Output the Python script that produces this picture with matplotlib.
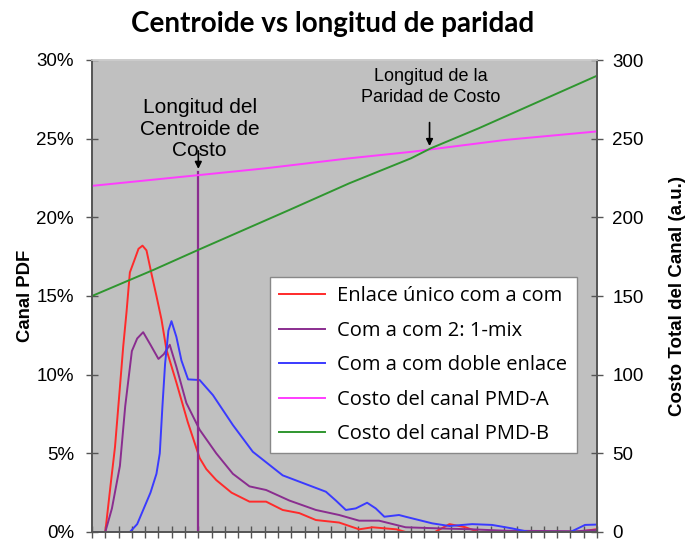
import matplotlib
matplotlib.use("Agg")
import matplotlib.pyplot as plt
from matplotlib.ticker import FuncFormatter

plt.rcParams['font.family'] = ['Liberation Sans', 'DejaVu Sans']

# --- data (x in distance units, PDF in %) ---
red_x = [0, 1.0, 1.4, 1.73, 2.1, 2.35, 2.6, 2.85, 3.2, 3.5, 3.8, 4.1, 4.48, 4.85, 5.23, 5.6, 6.35, 7.2, 8.1, 8.6,
         9.35, 10.5, 11.85, 13.1, 14.35, 15.6, 16.85, 18.6, 20.1, 21.1, 22.9, 23.6, 25.8, 26.9, 28.1, 29.1, 36.5, 37.9, 38]
red_y = [0, 0, 3.0, 5.4, 9.2, 11.8, 14.0, 16.5, 17.3, 18.0, 18.2, 17.9, 16.4, 15.0, 13.5, 11.6, 9.5, 7.0, 4.7, 4.0,
         3.3, 2.5, 1.93, 1.93, 1.4, 1.2, 0.76, 0.6, 0.17, 0.3, 0.17, 0, 0, 0.5, 0.3, 0, 0, 0.17, 0.17]

mix_x = [0, 1.0, 1.5, 2.1, 2.5, 3.0, 3.4, 3.85, 4.4, 5.0, 5.4, 5.85, 6.35, 7.1, 8.1, 9.35, 10.6, 11.85, 13.1,
         14.85, 16.85, 18.6, 20.1, 21.6, 23.6, 26.1, 28.6, 31.1, 36.5, 37.9, 38]
mix_y = [0, 0, 1.5, 4.2, 8.0, 11.5, 12.3, 12.7, 11.9, 11.0, 11.3, 11.9, 10.5, 8.2, 6.5, 5.0, 3.7, 2.9, 2.67,
         2.0, 1.4, 1.08, 0.72, 0.72, 0.3, 0.23, 0.17, 0.08, 0.05, 0.13, 0.13]

dbl_x = [0, 2.85, 3.4, 3.85, 4.4, 4.85, 5.1, 5.3, 5.5, 5.75, 5.98, 6.35, 6.73, 7.23, 8.1, 9.1, 10.6, 12.1, 14.35,
         15.6, 17.6, 18.35, 19.1, 19.85, 20.7, 21.35, 22.0, 23.1, 23.6, 25.6, 26.9, 28.6, 30.1, 31.6, 32.9, 36.0,
         37.1, 37.9, 38]
dbl_y = [0, 0, 0.5, 1.4, 2.5, 3.7, 5.0, 8.0, 10.7, 12.8, 13.4, 12.4, 10.9, 9.7, 9.66, 8.7, 6.8, 5.1, 3.6,
         3.2, 2.56, 2.0, 1.4, 1.5, 1.86, 1.5, 0.97, 1.08, 0.97, 0.55, 0.38, 0.5, 0.45, 0.23, 0, 0,
         0.45, 0.47, 0.47]

# channel cost (right axis, a.u.)
pmda_x = [0, 8.1, 13.1, 19.35, 24.1, 31.1, 38]
pmda_y = [220, 226.9, 231.2, 237.5, 241.7, 249.2, 254.6]
pmdb_x = [0, 4.6, 8.1, 14.85, 19.35, 24.0, 25.5, 29.1, 33.6, 38]
pmdb_y = [150, 166.5, 179.7, 204.7, 221.6, 237.5, 243.9, 256.6, 273.5, 290]

centroid_x = 8
parity_x = 25.4

fig = plt.figure(figsize=(6.94, 5.41), dpi=100)
ax = fig.add_axes([92/694, 1-532/541, 505/694, 472/541])
ax2 = ax.twinx()

ax.set_facecolor('#c0c0c0')
lw = 1.4
l1, = ax.plot(red_x, red_y, color='#ff2a2a', lw=lw, label='Enlace único com a com')
l2, = ax.plot(mix_x, mix_y, color='#8a2d8f', lw=lw, label='Com a com 2: 1-mix')
l3, = ax.plot(dbl_x, dbl_y, color='#3a3aff', lw=lw, label='Com a com doble enlace')
l4, = ax2.plot(pmda_x, pmda_y, color='#ff3cff', lw=lw, label='Costo del canal PMD-A')
l5, = ax2.plot(pmdb_x, pmdb_y, color='#2f962f', lw=lw, label='Costo del canal PMD-B')

ax.plot([centroid_x, centroid_x], [0, 22.9], color='#8a2d8f', lw=1.6)

ax.set_xlim(0, 38)
ax.set_ylim(0, 30)
ax2.set_ylim(0, 300)
ax.set_xticks(range(0, 39))
ax.set_xticklabels([])
ax.set_yticks([0, 5, 10, 15, 20, 25, 30])
ax.yaxis.set_major_formatter(FuncFormatter(lambda v, p: '%d%%' % v))
ax2.set_yticks(range(0, 301, 50))

for a in (ax, ax2):
    a.tick_params(direction='inout', length=9, width=1, color='#555555', labelsize=13.5)
    for s in a.spines.values():
        s.set_color('#555555')
        s.set_linewidth(1.2)
ax.tick_params(pad=8.5)
ax2.tick_params(pad=6.5)
ax2.spines['top'].set_color('#cccccc')
ax.spines['top'].set_color('#cccccc')

ax.set_ylabel('Canal PDF', fontsize=13.3, fontweight='bold', labelpad=2)
ax2.set_ylabel('Costo Total del Canal (a.u.)', fontsize=13.5, fontweight='bold', labelpad=18)

ax.annotate('', xy=(centroid_x, 22.9), xytext=(centroid_x, 24.4),
            arrowprops=dict(arrowstyle='-|>', color='black', lw=1.2, mutation_scale=10))
ax.text(8.1, 25.6, 'Longitud del\nCentroide de\nCosto', ha='center', va='center',
        fontsize=15, linespacing=1.15)
ax2.annotate('', xy=(parity_x, 243.5), xytext=(parity_x, 262),
             arrowprops=dict(arrowstyle='-|>', color='black', lw=1.2, mutation_scale=10))
ax2.text(25.5, 283, 'Longitud de la\nParidad de Costo', ha='center', va='center',
         fontsize=13, linespacing=1.3)

leg = ax2.legend(handles=[l1, l2, l3, l4, l5], loc='upper left',
                 bbox_to_anchor=(270/694, 1-277/541), bbox_transform=fig.transFigure,
                 prop={'family': 'Open Sans', 'size': 14.5}, frameon=True, fancybox=False,
                 framealpha=1, edgecolor='#888888', handlelength=2.3, labelspacing=0.72,
                 borderpad=0.45, handletextpad=0.6, borderaxespad=0)
leg.get_frame().set_linewidth(1.0)

fig.text(333/694, 1-24/541, 'Centroide vs longitud de paridad', ha='center', va='center',
         fontsize=20, fontweight='bold', family='Lato')

fig.savefig('out.png', dpi=100)
